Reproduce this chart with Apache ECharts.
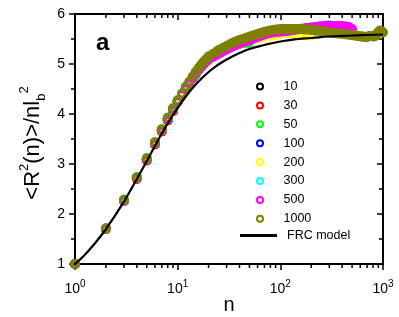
<!DOCTYPE html>
<html><head><meta charset="utf-8">
<script src="https://cdn.jsdelivr.net/npm/echarts@6/dist/echarts.min.js"></script>
<style>html,body{margin:0;padding:0;background:#fff}#c{width:399px;height:317px}</style>
</head><body><div id="c"></div>
<script>
// ---- data ----
const seriesNames = ['10','30','50','100','200','300','500','1000'];
const seriesColors = ['#000000','#ff0000','#00ff00','#0000ff','#ffff00','#00ffff','#ff00ff','#808000'];

const n10 = [1,2,3,4,5,6,7,8,9];
const v10 = [1.00,1.70,2.26,2.71,3.08,3.40,3.66,3.88,4.06];

const n30 = [1,2,3,4,5,6,7,8,9,10,12,15,18,21,24,27,29];
const v30 = [1.00,1.70,2.26,2.70,3.07,3.39,3.65,3.87,4.06,4.25,4.52,4.82,5.02,5.15,5.22,5.28,5.31];

const n50 = [1,2,3,4,5,6,7,8,9,10,12,15,20,25,30,35,40,45,49];
const v50 = [1.00,1.71,2.29,2.74,3.12,3.44,3.70,3.93,4.12,4.28,4.55,4.84,5.15,5.28,5.34,5.38,5.40,5.42,5.42];

const n100 = [1,2,3,4,5,6,7,8,9,10,12,15,20,25,30,40,50,60,70,80,90,99];
const v100 = [1.00,1.71,2.27,2.72,3.10,3.42,3.68,3.90,4.09,4.25,4.50,4.78,5.08,5.22,5.30,5.40,5.47,5.52,5.56,5.58,5.60,5.61];

const n200 = [1,2,3,4,5,6,7,8,9,10,12,15,20,25,30,40,50,60,70,80,90,100,120,140,160,180,199];
const v200 = [1.00,1.71,2.27,2.72,3.10,3.42,3.68,3.90,4.09,4.24,4.49,4.76,5.05,5.20,5.29,5.40,5.47,5.51,5.54,5.56,5.58,5.60,5.61,5.60,5.58,5.57,5.57];

const n300 = [1,2,3,4,5,6,7,8,9,10,12,15,20,25,30,40,50,60,70,80,90,100,120,140,160,180,200,220,240,260,280,299];
const v300 = [1.00,1.71,2.27,2.72,3.10,3.42,3.68,3.90,4.09,4.25,4.50,4.78,5.08,5.22,5.30,5.42,5.50,5.55,5.59,5.62,5.64,5.65,5.67,5.69,5.71,5.72,5.73,5.74,5.75,5.76,5.77,5.78];

const n500 = [1,2,3,4,5,6,7,8,9,10,11,12,13,14,15,16,17,18,19,20,
  22,24,26,28,30,32,34,36,38,40,
  43,46,49,52,55,58,61,64,67,70,
  75,80,85,90,95,100,105,110,115,120,125,130,135,140,145,150,
  160,170,180,190,200,210,220,230,240,250,260,270,280,290,300,
  320,340,360,380,400,420,440,460,480,499];
const v500 = [1.00,1.71,2.27,2.72,3.10,3.42,3.68,3.90,4.09,4.24,4.38,4.50,4.61,4.71,4.80,4.88,4.94,5.00,5.05,5.10,
  5.14,5.18,5.22,5.26,5.29,5.32,5.35,5.37,5.39,5.41,
  5.43,5.45,5.47,5.49,5.51,5.53,5.55,5.56,5.58,5.59,
  5.61,5.62,5.63,5.64,5.64,5.65,5.65,5.66,5.66,5.67,5.67,5.68,5.68,5.69,5.69,5.70,
  5.70,5.71,5.72,5.72,5.73,5.73,5.74,5.74,5.75,5.75,5.75,5.76,5.76,5.76,5.76,
  5.76,5.76,5.76,5.76,5.76,5.75,5.75,5.74,5.72,5.70];

const n1000 = [1,2,3,4,5,6,7,8,9,10,11,12,13,14,15,16,17,18,19,20,
  22,24,26,28,30,32,34,36,38,40,
  43,46,49,52,55,58,61,64,67,70,
  75,80,85,90,95,100,105,110,115,120,125,130,135,140,145,150,
  160,170,180,190,200,210,220,230,240,250,260,270,280,290,300,
  320,340,360,380,400,420,440,460,480,500,520,540,560,580,600,620,640,660,680,700,
  720,740,760,780,800,820,840,860,880,900,920,940,960,980,999];
const v1000 = [1.00,1.71,2.28,2.73,3.11,3.43,3.69,3.92,4.11,4.27,4.41,4.54,4.65,4.75,4.84,4.92,4.99,5.05,5.10,5.15,
  5.20,5.25,5.29,5.33,5.36,5.39,5.42,5.44,5.46,5.48,
  5.50,5.52,5.54,5.56,5.57,5.59,5.60,5.62,5.63,5.64,
  5.66,5.67,5.68,5.69,5.69,5.70,5.70,5.70,5.70,5.70,5.70,5.70,5.70,5.70,5.70,5.70,
  5.70,5.69,5.69,5.69,5.68,5.68,5.67,5.67,5.66,5.66,5.65,5.65,5.64,5.64,5.63,
  5.62,5.62,5.61,5.61,5.60,5.60,5.59,5.59,5.58,5.58,5.57,5.57,5.56,5.56,5.55,5.55,5.55,5.54,5.54,5.54,
  5.55,5.56,5.56,5.56,5.55,5.55,5.56,5.58,5.61,5.64,5.66,5.67,5.66,5.64,5.63];

const frcN = [1,1.2,1.5,2,3,4,5,6,7,8,9,10,12,15,20,25,30,40,50,70,100,150,200,300,500,700,1000];
const frcV = [1.00,1.15,1.37,1.70,2.25,2.70,3.06,3.36,3.61,3.81,3.98,4.12,4.35,4.59,4.84,4.99,5.09,5.22,5.30,5.38,5.45,5.50,5.52,5.55,5.57,5.58,5.59];

const xMinorTicks = [2,3,4,5,6,7,8,9,20,30,40,50,60,70,80,90,200,300,400,500,600,700,800,900];
const yRange = [1, 6];
const xRange = [1, 1000];

// ---- chart ----
const FONT = 'Liberation Sans';
const pairs = (ns, vs) => ns.map((n, i) => [n, vs[i]]);
const allN = [n10,n30,n50,n100,n200,n300,n500,n1000];
const allV = [v10,v30,v50,v100,v200,v300,v500,v1000];

const scatterSeries = seriesNames.map((name, i) => ({
  name, type: 'scatter', xAxisIndex: 0, yAxisIndex: 0,
  data: pairs(allN[i], allV[i]),
  symbol: 'circle', symbolSize: 7,
  itemStyle: { color: 'transparent', borderColor: seriesColors[i], borderWidth: 3, opacity: 1 },
  emphasis: { disabled: true }, silent: true
}));

const chart = echarts.init(document.getElementById('c'), null, { renderer: 'canvas' });
const xLabelRich = { s: { fontSize: 10, verticalAlign: 'top', lineHeight: 20, fontFamily: FONT, color: '#000' } };

chart.setOption({
  animation: false,
  backgroundColor: '#fff',
  textStyle: { fontFamily: FONT },
  grid: { left: 75, right: 16, top: 14, bottom: 53, containLabel: false, outerBoundsMode: 'none' },
  xAxis: [{
    type: 'log', logBase: 10, min: xRange[0], max: xRange[1], position: 'bottom',
    axisLine: { lineStyle: { color: '#000', width: 2 } },
    axisTick: { inside: false, length: 6, lineStyle: { color: '#000', width: 1.5 } },
    splitLine: { show: false },
    axisLabel: {
      color: '#000', fontSize: 14, lineHeight: 20, margin: 15, fontFamily: FONT,
      formatter: v => '10{s|' + Math.round(Math.log10(v)) + '}', rich: xLabelRich
    },
    name: 'n', nameLocation: 'middle', nameGap: 31, nameMoveOverlap: false,
    nameTextStyle: { fontSize: 20, color: '#000', fontFamily: FONT }
  }, {
    type: 'log', logBase: 10, min: xRange[0], max: xRange[1], position: 'top',
    axisLine: { lineStyle: { color: '#000', width: 2 } },
    axisTick: { inside: true, length: 6, lineStyle: { color: '#000', width: 1.5 } },
    axisLabel: { show: false }, splitLine: { show: false }
  }],
  yAxis: [{
    type: 'value', min: yRange[0], max: yRange[1], interval: 1, position: 'left',
    axisLine: { show: true, lineStyle: { color: '#000', width: 2 } },
    axisTick: { show: true, inside: false, length: 6, lineStyle: { color: '#000', width: 1.5 } },
    minorTick: { show: true, splitNumber: 2, length: 4, lineStyle: { color: '#000', width: 1.5 } },
    splitLine: { show: false },
    axisLabel: { color: '#000', fontSize: 14, margin: 10, fontFamily: FONT }
  }, {
    type: 'value', min: yRange[0], max: yRange[1], interval: 1, position: 'right',
    axisLine: { show: true, lineStyle: { color: '#000', width: 2 } },
    axisTick: { show: true, inside: true, length: 6, lineStyle: { color: '#000', width: 1.5 } },
    minorTick: { show: true, splitNumber: 2, length: 4, lineStyle: { color: '#000', width: 1.5 } },
    splitLine: { show: false }, axisLabel: { show: false }
  }],
  legend: [{
    orient: 'vertical', left: 251, top: 75, itemWidth: 37, itemHeight: 6, itemGap: 5.9,
    itemStyle: { borderWidth: 2 },
    textStyle: { fontSize: 12.5, color: '#000', fontFamily: FONT },
    data: seriesNames, selectedMode: false
  }, {
    orient: 'vertical', left: 235, top: 224, itemWidth: 37, itemHeight: 3,
    icon: 'rect',
    textStyle: { fontSize: 12.5, color: '#000', fontFamily: FONT, padding: [0, 0, 0, 5] },
    data: ['FRC model'], selectedMode: false
  }],
  graphic: [{
    type: 'text', left: 96, top: 31,
    style: { text: 'a', font: 'bold 24px "Liberation Sans"', fill: '#000' }
  }, {
    type: 'text', x: 33, y: 143, rotation: Math.PI / 2,
    style: {
      text: '<R{sup|2}(n)>/nl{sub|b}{sup|2}', align: 'center', verticalAlign: 'middle',
      fontSize: 22, lineHeight: 30, fontFamily: FONT, fill: '#000',
      rich: {
        sup: { fontSize: 13, verticalAlign: 'top', lineHeight: 30, fontFamily: FONT, fill: '#000' },
        sub: { fontSize: 13, verticalAlign: 'bottom', lineHeight: 30, fontFamily: FONT, fill: '#000' }
      }
    }
  }],
  series: scatterSeries.concat([{
    name: 'FRC model', type: 'line', xAxisIndex: 0, yAxisIndex: 0,
    data: pairs(frcN, frcV), smooth: true, symbol: 'none', showSymbol: false,
    lineStyle: { color: '#000', width: 2.2 }, itemStyle: { color: '#000' }, z: 3, silent: true
  }, {
    type: 'custom', xAxisIndex: 0, yAxisIndex: 0, silent: true, clip: false, z: 4,
    data: xMinorTicks.map(v => [v]),
    renderItem: (params, api) => {
      const v = api.value(0);
      const pb = api.coord([v, yRange[0]]);
      const pt = api.coord([v, yRange[1]]);
      const st = { stroke: '#000', lineWidth: 1.5 };
      return { type: 'group', children: [
        { type: 'line', shape: { x1: pb[0], y1: pb[1], x2: pb[0], y2: pb[1] + 4 }, style: st },
        { type: 'line', shape: { x1: pt[0], y1: pt[1], x2: pt[0], y2: pt[1] + 4 }, style: st }
      ]};
    }
  }])
});
</script></body></html>
